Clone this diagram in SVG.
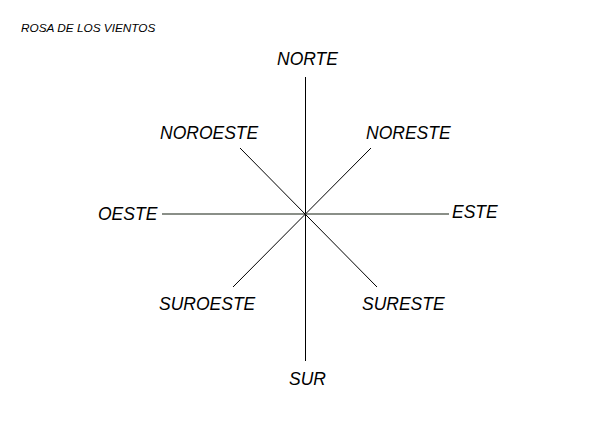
<svg xmlns="http://www.w3.org/2000/svg" width="616" height="428" viewBox="0 0 616 428">
<style>
.lbl{font-family:"Liberation Sans",Arial,sans-serif;font-style:italic;font-size:17.5px;fill:#000}
.title{font-family:"Liberation Sans",Arial,sans-serif;font-style:italic;font-size:11.8px;fill:#000}
.ln{stroke:#000;stroke-width:1;fill:none}
</style>
<rect width="616" height="428" fill="#fff"/>
<text class="title" x="21" y="32">ROSA DE LOS VIENTOS</text>
<g id="connectors">
<line class="ln" x1="305.5" y1="77" x2="305.5" y2="361"/>
<line x1="162" y1="214" x2="449" y2="214" stroke="#8a8f88" stroke-width="2"/>
<line class="ln" x1="240" y1="148" x2="377" y2="287"/>
<line class="ln" x1="371" y1="148" x2="233" y2="287"/>
</g>
<g id="norte"><text class="lbl" x="277" y="65">NORTE</text></g>
<g id="noroeste"><text class="lbl" x="160" y="139">NOROESTE</text></g>
<g id="noreste"><text class="lbl" x="366" y="139">NORESTE</text></g>
<g id="oeste"><text class="lbl" x="98" y="220">OESTE</text></g>
<g id="este"><text class="lbl" x="452" y="218">ESTE</text></g>
<g id="suroeste"><text class="lbl" x="159" y="310">SUROESTE</text></g>
<g id="sureste"><text class="lbl" x="362" y="310">SURESTE</text></g>
<g id="sur"><text class="lbl" x="289" y="385">SUR</text></g>
</svg>
